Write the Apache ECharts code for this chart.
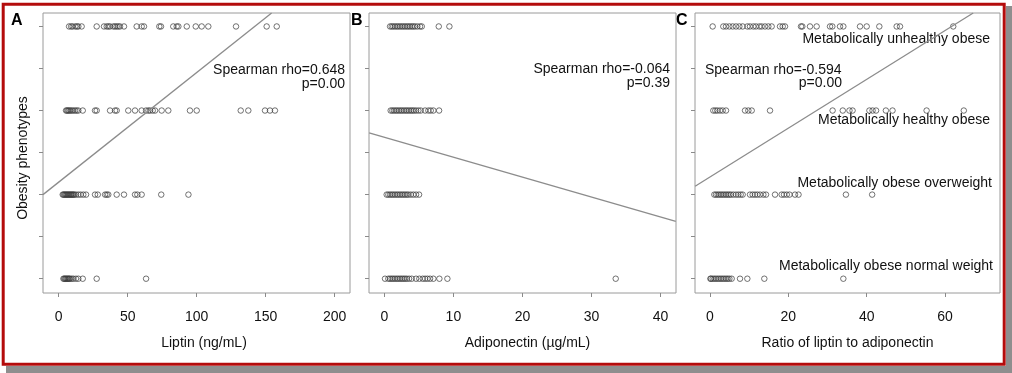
<!DOCTYPE html>
<html>
<head>
<meta charset="utf-8">
<script src="https://cdn.jsdelivr.net/npm/echarts@6.0.0/dist/echarts.min.js"></script>
<style>
html,body{margin:0;padding:0;background:#fff;}
#chart{width:1012px;height:373px;}
</style>
</head>
<body>
<div id="chart"></div>
<script>
// ---- Data ----
// y = 1..4 phenotype codes
const phenotypes = ['Metabolically obese normal weight', 'Metabolically obese overweight', 'Metabolically healthy obese', 'Metabolically unhealthy obese'];
const panelLetters = ['A', 'B', 'C'];
const xTitles = ['Liptin (ng/mL)', 'Adiponectin (\u00b5g/mL)', 'Ratio of liptin to adiponectin'];
const yTitle = 'Obesity phenotypes';
const rhoTexts = ['Spearman rho=0.648', 'Spearman rho=-0.064', 'Spearman rho=-0.594'];
const pTexts = ['p=0.00', 'p=0.39', 'p=0.00'];

const ticksA = [0, 50, 100, 150, 200];
const ticksB = [0, 10, 20, 30, 40];
const ticksC = [0, 20, 40, 60];
const yTicks = [1, 1.5, 2, 2.5, 3, 3.5, 4];

// Leptin (ng/mL)
const leptinMONW = [3.4, 4.0, 4.6, 5.2, 5.8, 6.4, 7.0, 7.6, 8.2, 9.4, 10.6, 12.5, 14.2, 17.4, 27.5, 63.3];
const leptinMOOW = [2.9, 3.5, 4.1, 4.7, 5.3, 5.9, 6.5, 7.1, 7.7, 8.3, 8.9, 9.5, 10.1, 10.7, 11.3, 12.5, 14.2, 15.9, 17.8, 19.8, 26.3, 28.3, 33.6, 34.8, 35.9, 42.0, 47.3, 55.3, 57.0, 60.1, 74.3, 94.0];
const leptinMHO = [5.3, 6.0, 6.8, 7.5, 8.4, 9.4, 10.5, 11.8, 13.0, 14.2, 17.4, 26.3, 27.5, 37.2, 40.8, 42.0, 50.4, 55.3, 60.1, 63.3, 65.0, 66.2, 68.1, 69.8, 74.6, 79.4, 95.1, 100.0, 131.9, 137.4, 149.5, 153.1, 156.7];
const leptinMUO = [7.5, 9.0, 10.1, 12.0, 13.2, 14.2, 16.6, 27.5, 32.8, 34.8, 36.0, 37.2, 39.6, 40.8, 42.0, 43.2, 44.4, 47.3, 56.5, 60.1, 61.8, 72.9, 74.1, 83.0, 85.5, 86.7, 92.8, 99.3, 103.6, 108.4, 128.5, 150.7, 158.0];

// Adiponectin (ug/mL)
const adipoMONW = [0.1, 0.58, 0.83, 1.07, 1.3, 1.55, 1.8, 2.03, 2.28, 2.52, 2.76, 3.0, 3.25, 3.58, 3.97, 4.59, 5.07, 5.56, 5.9, 6.24, 6.62, 7.1, 7.97, 9.13, 33.5];
const adipoMOOW = [0.34, 0.58, 0.83, 1.07, 1.3, 1.55, 1.8, 2.03, 2.28, 2.52, 2.76, 3.0, 3.25, 3.48, 3.83, 4.2, 4.59, 5.03];
const adipoMHO = [0.92, 1.16, 1.4, 1.65, 1.88, 2.13, 2.37, 2.6, 2.85, 3.1, 3.33, 3.58, 3.83, 4.06, 4.3, 4.59, 4.93, 5.27, 5.9, 6.38, 6.72, 7.1, 7.93];
const adipoMUO = [0.83, 1.07, 1.3, 1.55, 1.8, 2.03, 2.28, 2.52, 2.76, 3.0, 3.25, 3.48, 3.72, 3.97, 4.2, 4.45, 4.78, 5.17, 5.42, 7.88, 9.42];

// Ratio of leptin to adiponectin
const ratioMONW = [0.1, 0.26, 0.68, 1.11, 1.53, 1.96, 2.39, 2.81, 3.23, 3.66, 4.09, 4.51, 4.94, 5.53, 7.66, 9.53, 13.87, 34.04];
const ratioMOOW = [1.11, 1.53, 1.96, 2.39, 2.81, 3.23, 3.66, 4.09, 4.51, 4.94, 5.36, 5.96, 6.64, 7.24, 7.83, 8.34, 10.21, 10.89, 11.49, 12.08, 12.77, 13.62, 14.3, 16.6, 18.3, 18.9, 19.6, 20.3, 21.7, 22.6, 34.7, 41.4];
const ratioMHO = [0.85, 1.36, 1.87, 2.55, 3.23, 4.09, 8.94, 9.79, 10.64, 15.32, 31.3, 33.9, 35.6, 36.4, 40.7, 41.5, 42.4, 44.9, 46.6, 55.3, 64.8];
const ratioMUO = [0.68, 3.4, 4.09, 4.94, 5.79, 6.64, 7.49, 8.34, 9.53, 10.2, 11.06, 11.74, 12.6, 13.19, 14.04, 14.89, 15.74, 17.87, 18.56, 19.15, 23.23, 23.57, 25.53, 27.23, 30.64, 31.23, 33.19, 34.04, 38.3, 40.0, 43.23, 47.66, 48.51, 62.1];

// Fitted line endpoints [x, y] in data units
const fitA = [[-11.4, 2.0], [154.3, 4.16]];
const fitB = [[-2.2, 2.735], [42.2, 1.682]];
const fitC = [[-3.8, 2.1], [67.2, 4.16]];

// Axis extents
const xRangeA = [-11.4, 211.1];
const xRangeB = [-2.22, 42.23];
const xRangeC = [-3.83, 74.04];
const yRange = [0.83, 4.16];

// ---- Build ----
const FONT = '"Liberation Sans", Arial, sans-serif';
const panels = [
  {rows: [leptinMONW, leptinMOOW, leptinMHO, leptinMUO], fit: fitA, ticks: ticksA, range: xRangeA, left: 43, width: 307},
  {rows: [adipoMONW, adipoMOOW, adipoMHO, adipoMUO], fit: fitB, ticks: ticksB, range: xRangeB, left: 369, width: 307},
  {rows: [ratioMONW, ratioMOOW, ratioMHO, ratioMUO], fit: fitC, ticks: ticksC, range: xRangeC, left: 695, width: 305}
];

const grids = [], xAxes = [], yAxes = [], series = [];
panels.forEach((p, i) => {
  grids.push({left: p.left, top: 13, width: p.width, height: 280, show: true, borderColor: '#9a9a9a', borderWidth: 1, backgroundColor: '#fff'});
  xAxes.push({
    type: 'value', gridIndex: i, min: p.range[0], max: p.range[1], position: 'bottom',
    axisLine: {show: false, onZero: false}, splitLine: {show: false},
    axisTick: {show: true, length: 4, customValues: p.ticks, lineStyle: {color: '#8a8a8a'}},
    axisLabel: {show: true, customValues: p.ticks, margin: 17, fontSize: 14, fontFamily: FONT, color: '#111'}
  });
  yAxes.push({
    type: 'value', gridIndex: i, min: yRange[0], max: yRange[1], position: 'left',
    axisLine: {show: false, onZero: false}, splitLine: {show: false},
    axisTick: {show: true, length: 4, customValues: yTicks, lineStyle: {color: '#8a8a8a'}},
    axisLabel: {show: false}
  });
  p.rows.forEach((vals, r) => {
    series.push({
      type: 'scatter', xAxisIndex: i, yAxisIndex: i,
      data: vals.map(v => [v, r + 1]),
      symbol: 'circle', symbolSize: 5.5,
      itemStyle: {color: 'rgba(255,255,255,0)', borderColor: '#3a3a3a', borderWidth: 0.9},
      emphasis: {disabled: true}, silent: true
    });
  });
  series.push({
    type: 'line', xAxisIndex: i, yAxisIndex: i, data: p.fit,
    symbol: 'none', lineStyle: {color: '#8c8c8c', width: 1.3}, clip: true, silent: true
  });
});

function txt(x, y, text, opts) {
  return {
    type: 'text', x: x, y: y, silent: true,
    style: Object.assign({text: text, fill: '#111', font: '14px ' + FONT, textAlign: 'left', textVerticalAlign: 'middle', align: 'left', verticalAlign: 'middle'}, opts || {})
  };
}

const graphics = [
  // shadow
  {type: 'rect', shape: {x: 6, y: 366, width: 1006, height: 7}, style: {fill: '#8e8e8e'}, silent: true},
  {type: 'rect', shape: {x: 1006, y: 6, width: 6, height: 367}, style: {fill: '#8e8e8e'}, silent: true},
  // red frame
  {type: 'rect', shape: {x: 3.2, y: 4.2, width: 1001, height: 360}, style: {fill: 'none', stroke: '#b40c0c', lineWidth: 3}, silent: true, z: 100},
  txt(11, 21, panelLetters[0], {font: 'bold 16px ' + FONT, fill: '#000'}),
  txt(351, 21, panelLetters[1], {font: 'bold 16px ' + FONT, fill: '#000'}),
  txt(676, 21, panelLetters[2], {font: 'bold 16px ' + FONT, fill: '#000'}),
  {type: 'text', x: 23, y: 158, rotation: Math.PI / 2, silent: true,
   style: {text: yTitle, fill: '#111', font: '14px ' + FONT, textAlign: 'center', textVerticalAlign: 'middle', align: 'center', verticalAlign: 'middle'}},
  txt(204, 343, xTitles[0], {textAlign: 'center', align: 'center'}),
  txt(527.5, 343, xTitles[1], {textAlign: 'center', align: 'center'}),
  txt(847.5, 343, xTitles[2], {textAlign: 'center', align: 'center'}),
  txt(345, 70, rhoTexts[0], {textAlign: 'right', align: 'right'}),
  txt(345, 84, pTexts[0], {textAlign: 'right', align: 'right'}),
  txt(670, 69, rhoTexts[1], {textAlign: 'right', align: 'right'}),
  txt(670, 83, pTexts[1], {textAlign: 'right', align: 'right'}),
  txt(705, 70, rhoTexts[2], {textAlign: 'left', align: 'left'}),
  txt(842, 83, pTexts[2], {textAlign: 'right', align: 'right'}),
  txt(990, 39, phenotypes[3], {textAlign: 'right', align: 'right'}),
  txt(990, 120, phenotypes[2], {textAlign: 'right', align: 'right'}),
  txt(992, 183, phenotypes[1], {textAlign: 'right', align: 'right'}),
  txt(993, 266, phenotypes[0], {textAlign: 'right', align: 'right'})
];

const chart = echarts.init(document.getElementById('chart'), null, {renderer: 'canvas'});
chart.setOption({
  animation: false,
  backgroundColor: '#fff',
  grid: grids, xAxis: xAxes, yAxis: yAxes, series: series,
  graphic: {elements: graphics}
});
</script>
</body>
</html>
